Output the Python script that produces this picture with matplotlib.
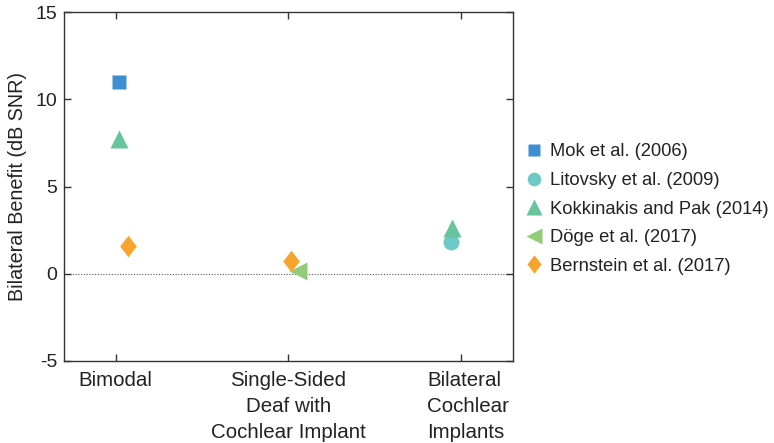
import matplotlib
matplotlib.use("Agg")
import matplotlib.pyplot as plt
import matplotlib.transforms as mtransforms
from matplotlib.path import Path

plt.rcParams['font.family'] = ['Liberation Sans', 'DejaVu Sans']
plt.rcParams['axes.unicode_minus'] = False

# conditions along the x axis
conditions = ["Bimodal", "Single-Sided\nDeaf with\nCochlear Implant", "Bilateral\nCochlear\nImplants"]

# study results: (condition index with small offset, benefit in dB SNR)
mok_x = [1.02]
mok_y = [11.0]
litovsky_x = [2.94]
litovsky_y = [1.8]
kokkinakis_x = [1.02, 2.95]
kokkinakis_y = [7.7, 2.6]
doege_x = [2.055]
doege_y = [0.15]
bernstein_x = [1.07, 2.015]
bernstein_y = [1.6, 0.72]

# thin diamond like the original
diamond = Path([(0, 1), (0.77, 0), (0, -1), (-0.77, 0), (0, 1)],
               [Path.MOVETO, Path.LINETO, Path.LINETO, Path.LINETO, Path.CLOSEPOLY])

fig = plt.figure(figsize=(7.74, 4.43), dpi=100)
ax = fig.add_axes([0.0827, 0.186, 0.58, 0.786])

ax.axhline(0, color='#555555', lw=0.8, ls=(0, (1, 1.5)), zorder=1)

ax.plot(mok_x, mok_y, ls='none', marker='s', ms=9.5, color='#3d8fd1', mec='none', label='Mok et al. (2006)', zorder=3)
ax.plot(litovsky_x, litovsky_y, ls='none', marker='o', ms=11.5, color='#6cc9c6', mec='none', label='Litovsky et al. (2009)', zorder=3)
ax.plot(kokkinakis_x, kokkinakis_y, ls='none', marker='^', ms=13.5, color='#66c59c', mec='none', label='Kokkinakis and Pak (2014)', zorder=3)
ax.plot(doege_x, doege_y, ls='none', marker='<', ms=13, color='#92cc78', mec='none', label='Döge et al. (2017)', zorder=3)
ax.plot(bernstein_x, bernstein_y, ls='none', marker=diamond, ms=15.5, color='#f6a42e', mec='none', label='Bernstein et al. (2017)', zorder=4)

ax.set_xlim(0.7, 3.3)
ax.set_ylim(-5, 15)
ax.set_xticks([1, 2, 3])
ax.set_xticklabels([])
ax.set_yticks([-5, 0, 5, 10, 15])
ax.set_yticklabels(['-5', '0', '5', '10', '15'], fontsize=14, color='#222222')
ax.tick_params(direction='in', length=5, width=1, color='#333333', top=True, right=True)
ax.tick_params(axis='y', pad=5)

# category labels under the ticks; the last one is left-justified and sits a bit right
xform = ax.get_xaxis_transform()
nudge = [0, 0, 0.07]
malign = ['center', 'center', 'left']
for i, txt in enumerate(conditions):
    ax.text(i + 1, 0, txt, transform=xform + mtransforms.ScaledTranslation(nudge[i], -0.1, fig.dpi_scale_trans),
            ha='center', va='top', ma=malign[i], fontsize=14.8, color='#222222', linespacing=1.48)

for s in ax.spines.values():
    s.set_color('#333333')
    s.set_linewidth(1)

ax.set_ylabel('Bilateral Benefit (dB SNR)', fontsize=14.2, color='#222222', labelpad=6)

fig.legend(loc='center left', bbox_to_anchor=(0.678, 0.528), frameon=False, fontsize=13.2,
           handlelength=1.0, handletextpad=0.4, labelspacing=0.63, markerscale=0.85,
           borderaxespad=0, borderpad=0, labelcolor='#222222')

fig.savefig('out.png', dpi=100)
